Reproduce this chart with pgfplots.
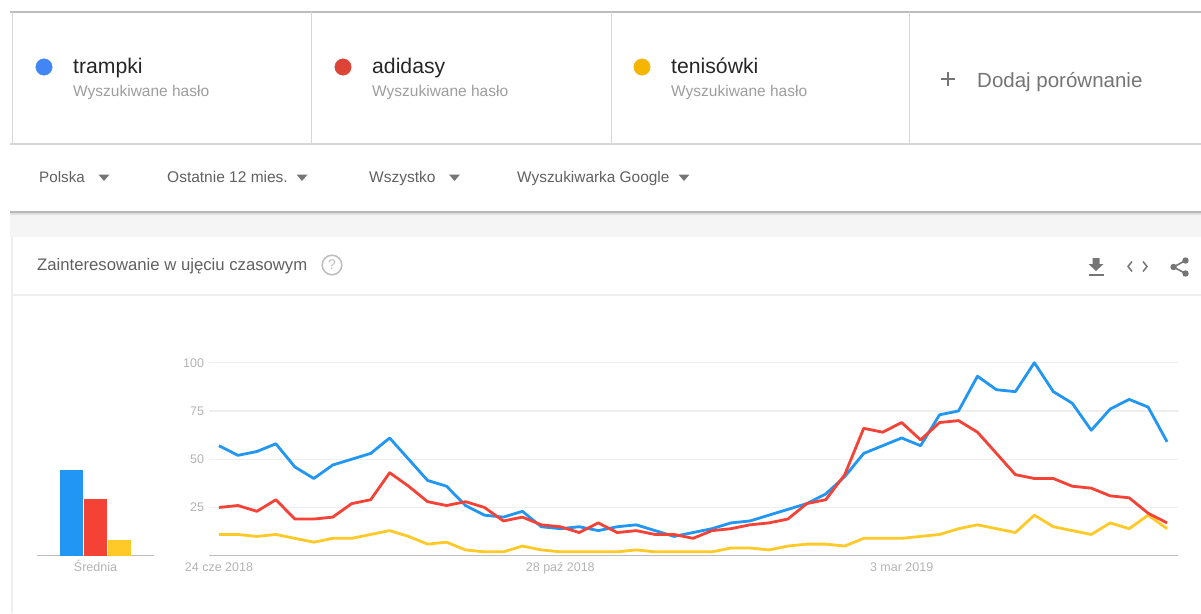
\documentclass[border=0pt]{standalone}
\usepackage{pgfplots}
\pgfplotsset{compat=1.18}
\usepackage{pgfplotstable}
\usepackage{fontspec}
\setmainfont{Liberation Sans}
\definecolor{serieblue}{HTML}{2196F3}
\definecolor{seriered}{HTML}{F44336}
\definecolor{serieyellow}{HTML}{FFCA28}
\definecolor{chipblue}{HTML}{4285F4}
\definecolor{chipred}{HTML}{DB4437}
\definecolor{chipyellow}{HTML}{F4B400}
\definecolor{gridgrey}{HTML}{EEEEEE}
\definecolor{axisgrey}{HTML}{BDBDBD}
\definecolor{ticktext}{HTML}{B4B4B4}
\definecolor{subtext}{HTML}{9E9E9E}
\definecolor{uitext}{HTML}{616161}
\definecolor{icongrey}{HTML}{757575}
\definecolor{panelgrey}{HTML}{F5F5F5}
\newcommand{\fs}[1]{\fontsize{#1}{#1}\selectfont}

% weekly search interest, one row per week
\pgfplotstableread{
i trampki adidasy tenisowki
0 57 25 11
1 52 26 11
2 54 23 10
3 58 29 11
4 46 19 9
5 40 19 7
6 47 20 9
7 50 27 9
8 53 29 11
9 61 43 13
10 50 36 10
11 39 28 6
12 36 26 7
13 26 28 3
14 21 25 2
15 20 18 2
16 23 20 5
17 15 16 3
18 14 15 2
19 15 12 2
20 13 17 2
21 15 12 2
22 16 13 3
23 13 11 2
24 10 11 2
25 12 9 2
26 14 13 2
27 17 14 4
28 18 16 4
29 21 17 3
30 24 19 5
31 27 27 6
32 32 29 6
33 41 42 5
34 53 66 9
35 57 64 9
36 61 69 9
37 57 60 10
38 73 69 11
39 75 70 14
40 93 64 16
41 86 53 14
42 85 42 12
43 100 40 21
44 85 40 15
45 79 36 13
46 65 35 11
47 76 31 17
48 81 30 14
49 77 22 21
50 59 17 14
}\weekly

\begin{document}
\begin{tikzpicture}
\useasboundingbox (0pt,0pt) rectangle (1201pt,-613pt);
\fill[white] (0pt,0pt) rectangle (1201pt,-613pt);

\begin{scope}[x=1pt,y=-1pt]
% page panels and rules
\fill[panelgrey] (10,213) rectangle (1201,237);
\fill[black!12] (10,213) rectangle (1201,214.5);
\draw[axisgrey,line width=1.3] (10,12) -- (1201,12);
\draw[black!28,line width=2] (10,212) -- (1201,212);
\draw[gridgrey!90!black,line width=1.2] (10,144) -- (1201,144);
\foreach \vx in {12,311.5,611,909.5}
  \draw[gridgrey!90!black,line width=1] (\vx,12) -- (\vx,144);
\draw[gridgrey,line width=1.2] (12,237) -- (12,613);
\draw[gridgrey,line width=1.2] (12,295) -- (1201,295);

% search term cards
\node[anchor=base west,inner sep=0,text=black!85] at (73,73.5) {\fs{21.2}trampki};
\node[anchor=base west,inner sep=0,text=black!85] at (372,73.5) {\fs{21.2}adidasy};
\node[anchor=base west,inner sep=0,text=black!85] at (671,73.5) {\fs{21.2}tenisówki};
\foreach \tx in {73,372,671}
  \node[anchor=base west,inner sep=0,text=subtext] at (\tx,96) {\fs{15.5}Wyszukiwane hasło};
\draw[icongrey,line width=1.6] (940.5,79) -- (955,79) (947.7,71.7) -- (947.7,86.3);
\node[anchor=base west,inner sep=0,text=icongrey] at (977,87) {\fs{20.5}Dodaj porównanie};

% filter bar
\node[anchor=base west,inner sep=0,text=uitext] at (39,182.5) {\fs{15.2}Polska};
\node[anchor=base west,inner sep=0,text=uitext] at (167,182.5) {\fs{15.5}Ostatnie 12 mies.};
\node[anchor=base west,inner sep=0,text=uitext] at (369,182.5) {\fs{15.5}Wszystko};
\node[anchor=base west,inner sep=0,text=uitext] at (517,182.5) {\fs{15.4}Wyszukiwarka Google};
\foreach \tx in {104,302,454.5,684}
  \fill[icongrey] (\tx-5.5,174.5) -- (\tx+5.5,174.5) -- (\tx,181) -- cycle;

% card title and its icons
\node[anchor=base west,inner sep=0,text=uitext] at (37,270.5) {\fs{16.7}Zainteresowanie w ujęciu czasowym};
\draw[axisgrey,line width=1.5] (332,265) circle (9.8);
\node[text=axisgrey,inner sep=0] at (332,265) {\fs{14}?};
\fill[icongrey] (1092.5,258) rectangle (1099.5,264) (1088.5,264) -- (1103.5,264) -- (1096,271) -- cycle;
\fill[icongrey] (1088.5,273.5) rectangle (1103.5,275.5);
\draw[icongrey,line width=1.5] (1132,261.5) -- (1128,266.5) -- (1132,271.5)
                               (1143,261.5) -- (1147,266.5) -- (1143,271.5);
\draw[icongrey,line width=1.6] (1185.5,260.5) -- (1173.5,267) -- (1185.5,273.5);
\fill[icongrey] (1185.5,260.5) circle (3.2) (1173.5,267) circle (3.2) (1185.5,273.5) circle (3.2);
\end{scope}

% coloured chips of the search term cards
\begin{axis}[
  at={(0pt,-613pt)},anchor=south west,scale only axis,width=1201pt,height=613pt,
  xmin=0,xmax=1201,ymin=0,ymax=613,y dir=reverse,hide axis,clip=false]
\addplot[only marks,mark=*,mark size=8.2pt,chipblue,mark options={draw=none,fill=chipblue}] coordinates {(44,67)};
\addplot[only marks,mark=*,mark size=8.2pt,chipred,mark options={draw=none,fill=chipred}] coordinates {(343,67)};
\addplot[only marks,mark=*,mark size=8.2pt,chipyellow,mark options={draw=none,fill=chipyellow}] coordinates {(642,67)};
\end{axis}

% average bars
\begin{axis}[
  at={(37pt,-555.7pt)},anchor=south west,scale only axis,width=116.5pt,height=193pt,
  xmin=37,xmax=153.5,ymin=0,ymax=100,
  axis x line=bottom,axis y line=none,axis line style={axisgrey,line width=1pt,-},
  xtick={95.5},xticklabels={Średnia},major tick length=0pt,
  xticklabel style={text=ticktext,font=\fs{12.5},text height=9.5pt,text depth=2.7pt,yshift=-3pt},
  ybar,bar width=23pt,bar shift=0pt]
\addplot[draw=none,fill=serieblue] coordinates {(71.5,44.4)};
\addplot[draw=none,fill=seriered] coordinates {(95.5,29.4)};
\addplot[draw=none,fill=serieyellow] coordinates {(119.5,7.9)};
\end{axis}

% value scale and its grid, under the lines
\begin{axis}[
  at={(209pt,-555.7pt)},anchor=south west,scale only axis,width=968.7pt,height=193pt,
  xmin=0,xmax=1,ymin=0,ymax=100,
  axis x line=none,axis y line=left,axis line style={draw=none},
  xtick=\empty,ytick={25,50,75,100},major tick length=0pt,
  ymajorgrids,grid style={gridgrey,line width=1.2pt},
  yticklabel style={text=ticktext,font=\fs{12.5},xshift=-1.5pt},
  /pgf/number format/assume math mode=true]
\end{axis}

% weekly lines
\begin{axis}[
  at={(209pt,-555.7pt)},anchor=south west,scale only axis,width=968.7pt,height=193pt,
  xmin=-0.527,xmax=50.56,ymin=0,ymax=100,
  axis x line=bottom,axis y line=none,axis line style={axisgrey,line width=1pt,-},
  ytick=\empty,
  xtick={0,18,36},xticklabels={24 cze 2018,28 paź 2018,3 mar 2019},major tick length=0pt,
  xticklabel style={text=ticktext,font=\fs{12.5},text height=9.5pt,text depth=2.7pt,yshift=-3pt},
  clip=false]
\addplot[serieyellow,line width=2.8pt,line join=round] table[x=i,y=tenisowki] {\weekly};
\addplot[serieblue,line width=2.8pt,line join=round] table[x=i,y=trampki] {\weekly};
\addplot[seriered,line width=2.8pt,line join=round] table[x=i,y=adidasy] {\weekly};
\end{axis}
\end{tikzpicture}
\end{document}
